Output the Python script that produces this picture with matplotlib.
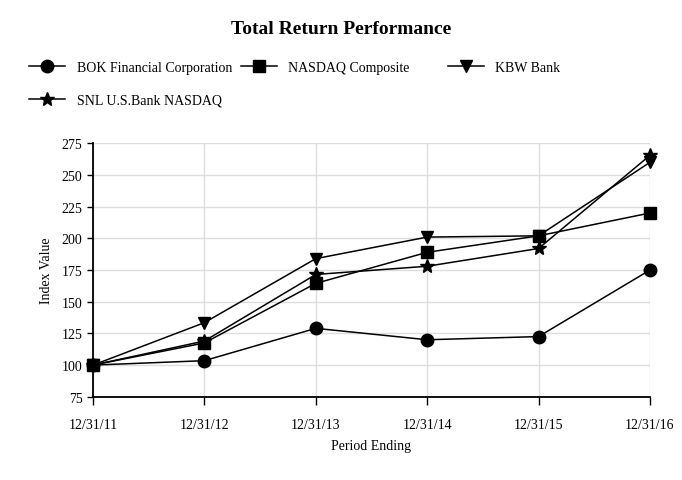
import matplotlib
matplotlib.use("Agg")
import matplotlib.pyplot as plt
from matplotlib.lines import Line2D

plt.rcParams['font.family'] = ['Liberation Serif', 'DejaVu Serif']

periods = ['12/31/11', '12/31/12', '12/31/13', '12/31/14', '12/31/15', '12/31/16']
bok = [100, 103.5, 129, 120, 122.5, 175]
nasdaq = [100, 117.5, 164.5, 189, 202, 220]
kbw = [100, 133.5, 184, 201, 202, 260]
snl = [100, 119, 171.5, 178, 192, 265.5]

names = ['BOK Financial Corporation', 'NASDAQ Composite', 'KBW Bank', 'SNL U.S.Bank NASDAQ']
markers = ['o', 's', 'v', '*']
msizes = [9, 9, 9, 10]

fig = plt.figure(figsize=(6.82, 4.81), dpi=100)
ax = fig.add_axes([0.1364, 0.173, 0.8166, 0.527])

x = list(range(len(periods)))
for vals, m, ms, name in zip([bok, nasdaq, kbw, snl], markers, msizes, names):
    ax.plot(x, vals, color='black', linewidth=1.1, marker=m, markersize=ms,
            label=name, clip_on=False)

ax.set_xlim(0, 5)
ax.set_ylim(75, 275)
ax.set_xticks(x)
ax.set_xticklabels(periods, fontsize=10)
ax.set_yticks(range(75, 276, 25))
ax.tick_params(axis='y', labelsize=10, length=4, width=1)
ax.tick_params(axis='x', length=6, width=1, pad=9)
ax.grid(True, color='#dddddd', linewidth=1)
ax.set_axisbelow(True)
ax.spines['top'].set_visible(False)
ax.spines['right'].set_visible(False)
ax.spines['left'].set_linewidth(1.3)
ax.spines['bottom'].set_linewidth(1.3)
ax.set_xlabel('Period Ending', fontsize=10, labelpad=6)
ax.set_ylabel('Index Value', fontsize=10, labelpad=6)

fig.suptitle('Total Return Performance', fontsize=14, fontweight='bold', y=0.957)

# legend entries placed one by one, like the reference
spots = [(0.043, 0.858), (0.353, 0.858), (0.657, 0.858), (0.043, 0.79)]
for name, m, ms, (lx, ly) in zip(names, markers, msizes, spots):
    h = Line2D([], [], color='black', linewidth=1.1, marker=m, markersize=ms)
    fig.legend([h], [name], loc='center left', bbox_to_anchor=(lx, ly), frameon=False,
               fontsize=10, handlelength=2.6, handletextpad=0.8, borderaxespad=0, borderpad=0)

fig.savefig('out.png', dpi=100)
